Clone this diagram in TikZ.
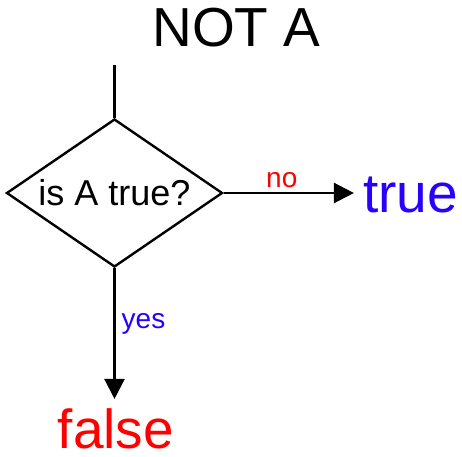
\documentclass[tikz,border=0pt]{standalone}
\usepackage{fontspec}
\setmainfont{Liberation Sans}
\usetikzlibrary{shapes.geometric,arrows.meta}
\definecolor{bleu}{RGB}{40,0,255}
\definecolor{rouge}{RGB}{255,0,0}
\begin{document}
\begin{tikzpicture}[x=1pt,y=1pt,line width=2.4pt,
        fleche/.style={-{Triangle[length=20pt,width=20pt]},shorten >=8pt},
        grand/.style={font=\fontsize{55}{55}\selectfont,inner sep=0pt},
        petit/.style={font=\fontsize{28}{28}\selectfont}]
                \useasboundingbox (0,0) rectangle (462,456);
                \node[grand,anchor=base] (titre) at (236.5,409) {NOT A};
                \node[draw,diamond,aspect=1.46,minimum width=216pt,minimum height=148pt,inner sep=0pt,
                      font=\fontsize{36}{36}\selectfont] (test) at (114.5,263) {is A true?};
                \coordinate (entree) at (114.5,391) ;%Pour le trait d'entree
                \node[grand,anchor=base,text=bleu] (vrai) at (410.5,244) {true};
                \node[grand,anchor=base,text=rouge] (faux) at (116,8) {false};
                \draw (entree)--(test.north) ;
                \draw[fleche] (test.east)--node[petit,above,pos=0.42,inner sep=4pt,text=rouge] {no}(test.east -| vrai.west) ;
                \draw[fleche] (test.south)--node[petit,right,pos=0.4,inner sep=6pt,text=bleu] {yes}(test.south |- faux.north) ;
            \end{tikzpicture}
\end{document}
